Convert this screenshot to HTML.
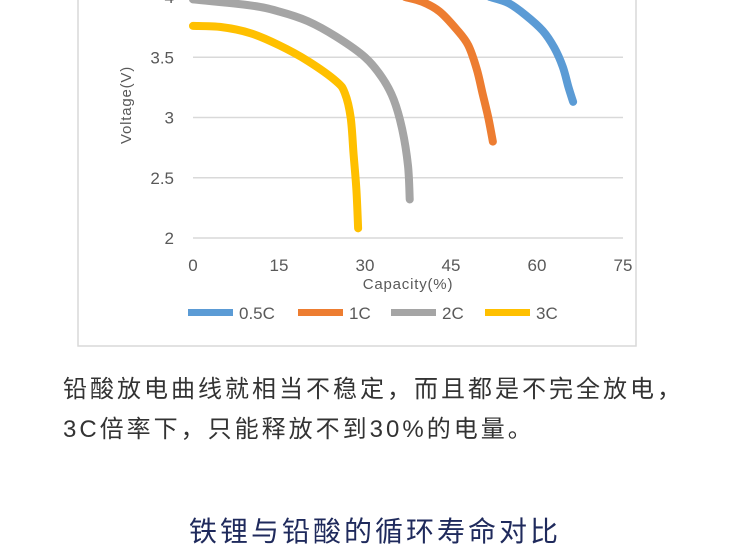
<!DOCTYPE html>
<html><head><meta charset="utf-8"><style>
body{margin:0;width:750px;height:538px;overflow:hidden;background:#fff;position:relative;font-family:"Liberation Sans","Noto Sans CJK SC",sans-serif}
.t{position:absolute;left:63px;font-size:24px;color:#333;white-space:nowrap;letter-spacing:3px}
</style></head><body>
<svg width="750" height="360" style="position:absolute;left:0;top:0" font-family="Liberation Sans, sans-serif">
<rect x="78" y="-5" width="558" height="351" fill="none" stroke="#d9d9d9" stroke-width="1.5"/>
<g id="grid"></g><g id="series"></g><g id="legend"></g>
<text x="408" y="289" font-size="15" fill="#595959" text-anchor="middle" letter-spacing="0.8">Capacity(%)</text>
<text transform="translate(131,105) rotate(-90)" font-size="15" fill="#595959" text-anchor="middle" letter-spacing="0.8">Voltage(V)</text>
</svg>
<div class="t" style="top:369px">铅酸放电曲线就相当不稳定，而且都是不完全放电，</div>
<div class="t" style="top:409px">3C倍率下，只能释放不到30%的电量。</div>
<div style="position:absolute;left:0;width:750px;text-align:center;top:510px;font-size:28px;letter-spacing:3px;color:#1f2a5c">铁锂与铅酸的循环寿命对比</div>
<script>
const xTicks=[0,15,30,45,60,75];
const yTicks=[2,2.5,3,3.5,4];
const seriesNames=["0.5C","1C","2C","3C"];
const seriesColors=["#5b9bd5","#ed7d31","#a5a5a5","#ffc000"];
const cap05=[51.8,55,58,61,63,64.5,65.5,66.3];
const volt05=[4.0,3.95,3.85,3.72,3.58,3.42,3.25,3.13];
const cap1=[37,40,43,46,48,49.5,50.5,51.5,52.3];
const volt1=[4.0,3.96,3.88,3.73,3.6,3.4,3.2,3.0,2.8];
const cap2=[0,10,15,20,25,30,33,35,36.5,37.5,37.8];
const volt2=[3.98,3.93,3.88,3.8,3.67,3.5,3.33,3.15,2.9,2.6,2.32];
const cap3=[0,5,10,15,20,25,26.5,27.5,28,28.5,28.8];
const volt3=[3.76,3.75,3.7,3.6,3.47,3.3,3.2,3.0,2.7,2.4,2.08];
const X=c=>193+c*(430/75);
const Y=v=>238-(v-2)*120.5;
const ns="http://www.w3.org/2000/svg";
function mk(t,a,p){const e=document.createElementNS(ns,t);for(const k in a)e.setAttribute(k,a[k]);p.appendChild(e);return e;}
const g=document.getElementById('grid');
yTicks.forEach(v=>{
 const l=mk('line',{x1:193,x2:623,y1:Y(v),y2:Y(v),stroke:'#d9d9d9','stroke-width':1.5},g);
 
 
 const t=mk('text',{x:174,y:Y(v)+6,'font-size':17,fill:'#595959','text-anchor':'end'},g);
 
 
 t.textContent=v;
});
xTicks.forEach(c=>{
 const t=mk('text',{x:X(c),y:271,'font-size':17,fill:'#595959','text-anchor':'middle'},g);
 
 
 t.textContent=c;
});
const caps=[cap05,cap1,cap2,cap3],volts=[volt05,volt1,volt2,volt3];
const s=document.getElementById('series');
function smooth(pts){let d=`M${pts[0][0]},${pts[0][1]}`;for(let i=0;i<pts.length-1;i++){const p0=pts[i-1]||pts[i],p1=pts[i],p2=pts[i+1],p3=pts[i+2]||p2;d+=` C${p1[0]+(p2[0]-p0[0])/6},${p1[1]+(p2[1]-p0[1])/6} ${p2[0]-(p3[0]-p1[0])/6},${p2[1]-(p3[1]-p1[1])/6} ${p2[0]},${p2[1]}`;}return d;}
caps.forEach((cs,i)=>{
 const pts=cs.map((c,j)=>[X(c),Y(volts[i][j])]);
 const p=mk('path',{d:smooth(pts),fill:'none',stroke:seriesColors[i],'stroke-width':8,'stroke-linecap':'round','stroke-linejoin':'round'},s);
 
 
});
const lg=document.getElementById('legend');
const lx=[188,298,391,485];
seriesNames.forEach((n,i)=>{
 const r=mk('rect',{x:lx[i],y:309,width:45,height:7,fill:seriesColors[i]},lg);
 
 
 const t=mk('text',{x:lx[i]+51,y:319,'font-size':17,fill:'#595959'},lg);
 
 
 t.textContent=n;
});
</script>
</body></html>
